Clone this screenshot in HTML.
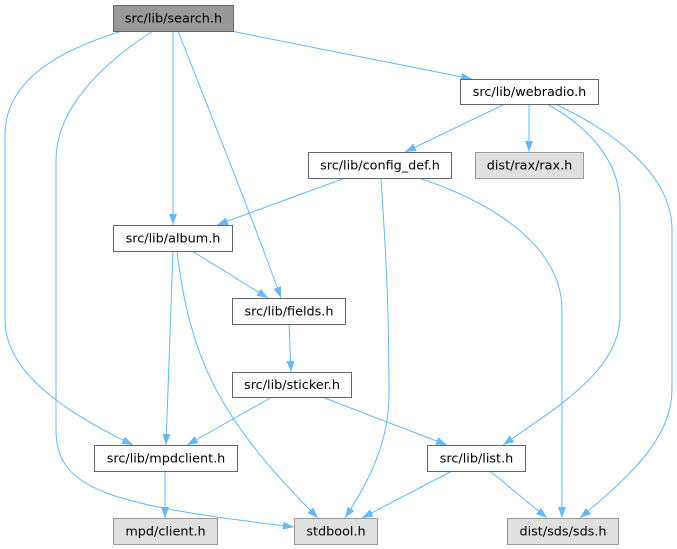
<!DOCTYPE html>
<html>
<head>
<meta charset="utf-8">
<style>
  html, body { margin: 0; padding: 0; background: #ffffff; }
  svg { display: block; }
  text { font-family: "DejaVu Sans", "Liberation Sans", sans-serif; font-size: 12.8px; fill: #000; }
</style>
</head>
<body>
<svg width="677" height="549" viewBox="0 0 677 549" xmlns="http://www.w3.org/2000/svg">
  <defs>
    <marker id="ah" markerUnits="userSpaceOnUse" markerWidth="11" markerHeight="8" viewBox="0 0 11 8" refX="11" refY="4" orient="auto">
      <path d="M0,0 L11,4 L0,8 z" fill="#63b8ff"/>
    </marker>
  </defs>
  <rect width="677" height="549" fill="#ffffff"/>

  <g fill="none" stroke="#63b8ff" stroke-width="1" marker-end="url(#ah)">
    <path d="M122,31 C60,50 5,80 5,135 L5,320 C5,370 60,410 133,445"/>
    <path d="M153,31 C100,65 56,110 56,160 L56,430 C56,490 110,505 294,527"/>
    <path d="M173,31 L173,225"/>
    <path d="M178,31 C215,125 255,225 281,298"/>
    <path d="M231,31 L472,79"/>
    <path d="M505,104 L405,152"/>
    <path d="M529,104 L529,152"/>
    <path d="M547,104 C580,122 620,155 620,205 L620,315 C620,370 560,405 503,445"/>
    <path d="M555,104 C615,132 672,175 672,230 L672,390 C672,440 625,480 580,518"/>
    <path d="M345,178 L217,225"/>
    <path d="M381,178 C385,240 389,300 389,395 C389,450 360,495 345,518"/>
    <path d="M419,178 C500,205 562,250 562,310 L562,518"/>
    <path d="M192,251 L268,298"/>
    <path d="M173,251 L166,445"/>
    <path d="M177,251 C190,360 220,420 318,518"/>
    <path d="M289,324 L291,372"/>
    <path d="M272,397 L187,445"/>
    <path d="M322,397 L447,445"/>
    <path d="M165,471 L165,518"/>
    <path d="M452,471 L362,518"/>
    <path d="M490,471 L547,518"/>
  </g>

  <g stroke-width="1">
    <rect x="113.5" y="5.5" width="120" height="26" fill="#999999" stroke="#666666"/>
    <rect x="113.5" y="225.5" width="119" height="26" fill="#ffffff" stroke="#666666"/>
    <rect x="308.5" y="152.5" width="143" height="26" fill="#ffffff" stroke="#666666"/>
    <rect x="460.5" y="79.5" width="138" height="25" fill="#ffffff" stroke="#666666"/>
    <rect x="475.5" y="152.5" width="108" height="26" fill="#e0e0e0" stroke="#999999"/>
    <rect x="232.5" y="298.5" width="113" height="26" fill="#ffffff" stroke="#666666"/>
    <rect x="232.5" y="372.5" width="119" height="25" fill="#ffffff" stroke="#666666"/>
    <rect x="94.5" y="445.5" width="143" height="26" fill="#ffffff" stroke="#666666"/>
    <rect x="113.5" y="518.5" width="104" height="26" fill="#e0e0e0" stroke="#999999"/>
    <rect x="294.5" y="518.5" width="83" height="26" fill="#e0e0e0" stroke="#999999"/>
    <rect x="427.5" y="445.5" width="98" height="26" fill="#ffffff" stroke="#666666"/>
    <rect x="507.5" y="518.5" width="111" height="26" fill="#e0e0e0" stroke="#999999"/>
  </g>

  <g text-anchor="middle">
    <text x="173.5" y="22.5">src/lib/search.h</text>
    <text x="173" y="242.5">src/lib/album.h</text>
    <text x="380" y="169.5">src/lib/config_def.h</text>
    <text x="529.5" y="96">src/lib/webradio.h</text>
    <text x="529.5" y="169.5">dist/rax/rax.h</text>
    <text x="289" y="315.5">src/lib/fields.h</text>
    <text x="292" y="389">src/lib/sticker.h</text>
    <text x="166" y="462.5">src/lib/mpdclient.h</text>
    <text x="165.5" y="535.5">mpd/client.h</text>
    <text x="336" y="535.5">stdbool.h</text>
    <text x="476.5" y="462.5">src/lib/list.h</text>
    <text x="563" y="535.5">dist/sds/sds.h</text>
  </g>
</svg>
</body>
</html>
